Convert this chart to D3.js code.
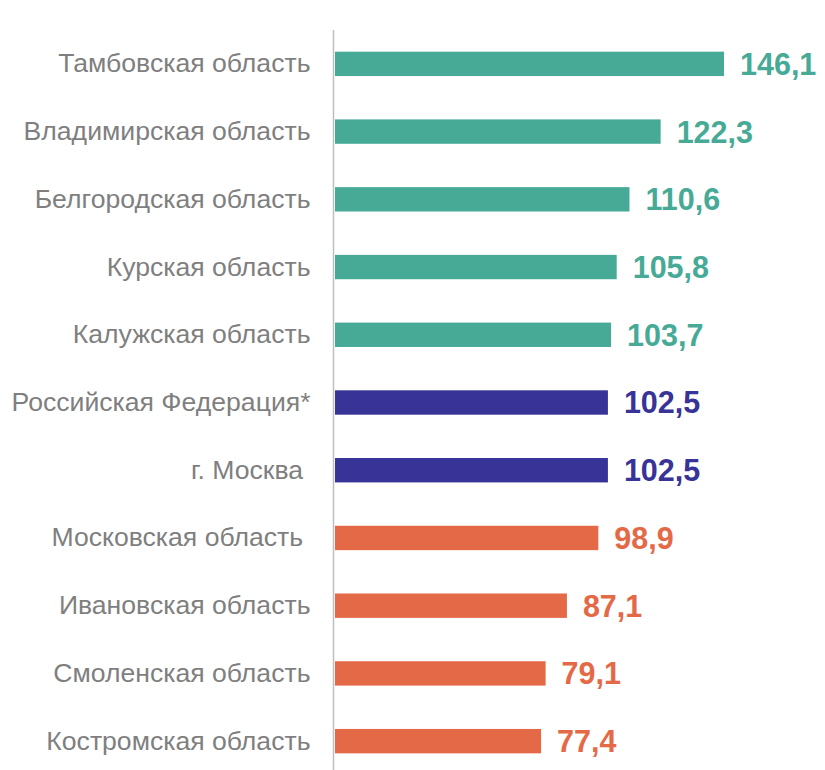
<!DOCTYPE html>
<html>
<head>
<meta charset="utf-8">
<script src="https://cdn.jsdelivr.net/npm/d3@7"></script>
<style>
  body { margin: 0; background: #fff; }
  svg { display: block; }
</style>
</head>
<body>
<svg id="chart" width="825" height="770"></svg>
<script>
// regions, top to bottom
const regions = [
  "Тамбовская область",
  "Владимирская область",
  "Белгородская область",
  "Курская область",
  "Калужская область",
  "Российская Федерация*",
  "г. Москва ",
  "Московская область ",
  "Ивановская область",
  "Смоленская область",
  "Костромская область"
];
const values = [146.1, 122.3, 110.6, 105.8, 103.7, 102.5, 102.5, 98.9, 87.1, 79.1, 77.4];
// group: above / reference / below
const groups = ["up", "up", "up", "up", "up", "ref", "ref", "down", "down", "down", "down"];

const data = regions.map((r, i) => ({ region: r, value: values[i], group: groups[i] }));

const svg = d3.select("#chart");
const margin = { top: 30, left: 335 };

const color = d3.scaleOrdinal()
  .domain(["up", "ref", "down"])
  .range(["#47aa97", "#373397", "#e36947"]);

const x = d3.scaleLinear()
  .domain([0, d3.max(values)])
  .range([margin.left, 724]);

const y = d3.scaleBand()
  .domain(regions)
  .range([margin.top, 775])
  .paddingInner(0.64)
  .paddingOuter(0.32);

// bars
svg.selectAll("rect.bar")
  .data(data)
  .enter()
  .append("rect")
  .attr("class", "bar")
  .attr("x", x(0))
  .attr("y", d => y(d.region))
  .attr("width", d => x(d.value) - x(0))
  .attr("height", y.bandwidth())
  .attr("fill", d => color(d.group));

// vertical axis line + category labels
const yAxis = svg.append("g")
  .attr("transform", `translate(${margin.left - 1.5},0)`)
  .call(d3.axisLeft(y).tickSize(0).tickPadding(23));

yAxis.select(".domain")
  .attr("d", `M0,${margin.top}V770`)
  .attr("stroke", "#bfbfbf")
  .attr("stroke-width", 1.5);

yAxis.selectAll(".tick text")
  .attr("fill", "#7f7f7f")
  .style("font-family", "Arial, 'Liberation Sans', sans-serif")
  .style("font-size", "26.6px")
  .style("white-space", "pre");

// value labels
const fmt = v => d3.format(".1f")(v).replace(".", ",");
svg.selectAll("text.val")
  .data(data)
  .enter()
  .append("text")
  .attr("class", "val")
  .attr("x", d => x(d.value) + 16)
  .attr("y", d => y(d.region) + y.bandwidth() / 2)
  .attr("dy", "0.36em")
  .attr("fill", d => color(d.group))
  .style("font-family", "Arial, 'Liberation Sans', sans-serif")
  .style("font-weight", "bold")
  .style("font-size", "30.5px")
  .text(d => fmt(d.value));
</script>
</body>
</html>
